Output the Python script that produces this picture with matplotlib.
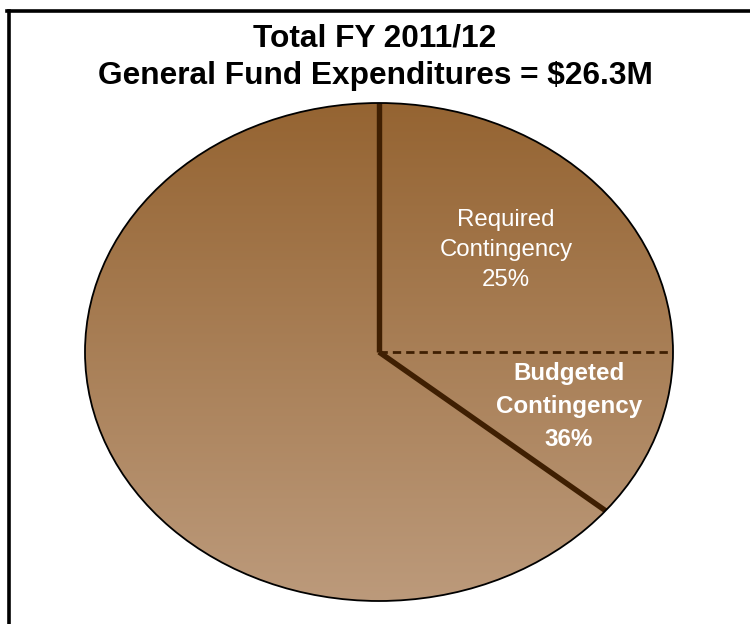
import numpy as np
import matplotlib
matplotlib.use('Agg')
import matplotlib.pyplot as plt
from matplotlib.lines import Line2D
from matplotlib.patches import Circle
from matplotlib.colors import LinearSegmentedColormap

# Contingency shares of the General Fund (percent of total)
required_pct = 25
budgeted_pct = 36          # includes the required 25%
title_lines = ['Total FY 2011/12', 'General Fund Expenditures = $26.3M']
label_required = 'Required\nContingency\n25%'
label_budgeted = 'Budgeted\nContingency\n36%'

shares = [required_pct, budgeted_pct - required_pct, 100 - budgeted_pct]

plt.rcParams['font.family'] = ['Liberation Sans', 'DejaVu Sans']

fig = plt.figure(figsize=(7.5, 6.24), dpi=100)
fig.patch.set_facecolor('white')

# axes sized so the unit pie is stretched into a wide ellipse
ax = fig.add_axes([85 / 750, 23 / 624, 588 / 750, 498 / 624])
wedges, _ = ax.pie(shares, startangle=90, counterclock=False, radius=1,
                   wedgeprops=dict(facecolor='none', linewidth=0))
ax.set_aspect('auto')
ax.set_xlim(-1, 1)
ax.set_ylim(-1, 1)
ax.axis('off')

# vertical brown gradient, dark at top and light at the bottom
brown = LinearSegmentedColormap.from_list('brown', ['#bc9a7b', '#956432'])
grad = np.linspace(0, 1, 256).reshape(-1, 1)
for w in wedges:
    im = ax.imshow(grad, extent=[-1, 1, -1, 1], origin='lower', cmap=brown,
                   aspect='auto', zorder=1)
    im.set_clip_path(w)

outline = Circle((0, 0), 1, facecolor='none', edgecolor='black', lw=1.3,
                 zorder=4, clip_on=False)
ax.add_patch(outline)

# slice boundaries
line_col = '#3f1f02'
cum = np.cumsum([0] + shares[:-1])
angles = np.deg2rad(90 - 360 * cum / 100)
for k, a in enumerate(angles):
    if k == 1:
        ax.plot([0, np.cos(a)], [0, np.sin(a)], color=line_col, lw=2.0,
                ls=(0, (3, 1.8)), zorder=3, dash_capstyle='butt')
    else:
        ax.plot([0, np.cos(a)], [0, np.sin(a)], color=line_col, lw=3.9,
                zorder=3, solid_capstyle='butt', solid_joinstyle='miter')

ax.text(0.432, 0.408, label_required, ha='center', va='center', color='white',
        fontsize=17.3, linespacing=1.47, zorder=5)
ax.text(0.646, -0.219, label_budgeted, ha='center', va='center', color='white',
        fontsize=17.4, fontweight='bold', linespacing=1.58, zorder=5)

fig.text(0.5, 1 - 57 / 624, '\n'.join(title_lines), ha='center', va='center',
         fontsize=22.8, fontweight='bold', linespacing=1.34)

# border along the top and left edges
fig.add_artist(Line2D([8.5 / 750, 8.5 / 750], [0, 1 - 10.5 / 624], color='black', lw=2.6))
fig.add_artist(Line2D([7 / 750, 1], [1 - 10.5 / 624, 1 - 10.5 / 624], color='black', lw=2.6))

fig.savefig('out.png', dpi=100, facecolor='white')
